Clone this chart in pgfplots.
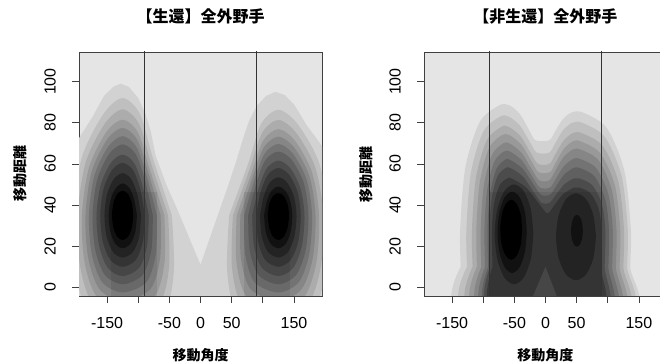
\documentclass[border=0pt]{standalone}
\usepackage{fontspec}
\setmainfont{Liberation Sans}
\newfontfamily\cjk{Noto Sans CJK JP}
\usepackage{pgfplots}
\pgfplotsset{compat=1.18}
\definecolor{g0}{gray}{0.90}
\definecolor{g1}{gray}{0.825}
\definecolor{g2}{gray}{0.75}
\definecolor{g3}{gray}{0.675}
\definecolor{g4}{gray}{0.60}
\definecolor{g5}{gray}{0.525}
\definecolor{g6}{gray}{0.45}
\definecolor{g7}{gray}{0.375}
\definecolor{g8}{gray}{0.30}
\definecolor{g9}{gray}{0.225}
\definecolor{g10}{gray}{0.15}
\definecolor{g11}{gray}{0.075}
\definecolor{g12}{gray}{0.0}
\pgfplotsset{
  dens/.style={
    scale only axis, height=244bp,
    ymin=-4.2, ymax=114.4,
    axis background/.style={fill=g0},
    axis line style={draw=black!75, line width=0.7bp},
    tick align=outside, major tick length=7bp,
    tick style={draw=black!75, line width=0.7bp},
    tick pos=left,
    xtick={-150,-100,-50,0,50,100,150},
    xticklabels={-150,,-50,0,50,,150},
    ytick={0,20,40,60,80,100},
    yticklabels={0,20,40,60,80,100},
    tick label style={font=\fontsize{16bp}{19bp}\selectfont, inner sep=0pt},
    xticklabel style={anchor=north, yshift=-14bp},
    yticklabel style={rotate=90, anchor=south, yshift=16bp},
    title style={font=\cjk\bfseries\fontsize{16bp}{19bp}\selectfont, anchor=center},
    label style={font=\cjk\bfseries\fontsize{14bp}{17bp}\selectfont, anchor=center},
  },
  lev/.style={fill=#1, draw=none, smooth},
  seam/.style={fill=black, fill opacity=0.08, draw=none},
  vline/.style={draw=black!80, line width=0.7bp},
}
\begin{document}
\begin{tikzpicture}
\useasboundingbox (0,0) rectangle (660bp,363bp);
% ---------------- left panel ----------------
\begin{axis}[dens, at={(79bp,67bp)}, anchor=south west, width=243bp,
  xmin=-195, xmax=195,
  title={【生還】全外野手}, title style={at={(0.5,1.123)}},
  xlabel={移動角度}, xlabel style={at={(0.5,-0.2418)}},
  ylabel={移動距離}, ylabel style={at={(-0.2428,0.5)}}]
\addplot[fill=g1, draw=none] coordinates {(-200,-12) (-200,70) (-192,74) (-173,83) (-155,93) (-140,97.5) (-128,99) (-115,97.5) (-100,92) (-88,84) (-80,76) (-72,64) (-55,50) (-36,37) (-18,24) (0,11) (15,24) (30,37) (45,50) (58,62) (68,72) (78,81) (90,88) (105,93) (120,95) (135,93.5) (150,89) (170,79) (192,70) (200,66) (200,-12)} --cycle;
% level 2
\addplot[lev=g2] coordinates {(-46,35) (-77.1,63.5) (-97.3,84.4) (-125,92) (-155.5,84.4) (-190.1,63.5) (-204.5,35) (-200.8,7.5) (-178.7,-12.6) (-125,-20) (-59.8,-12.6) (-42.9,7.5) (-46,35)} --cycle;
\addplot[lev=g2] coordinates {(46,35) (77.1,60.7) (97.3,79.5) (125,86.3) (155.5,79.5) (190.1,60.7) (204.5,35) (200.8,7.5) (178.7,-12.6) (125,-20) (59.8,-12.6) (42.9,7.5) (46,35)} --cycle;
% level 3
\addplot[lev=g3] coordinates {(-52,35) (-79.7,60.75) (-98.9,79.6) (-125,86.5) (-153.5,79.6) (-184.3,60.75) (-197.1,35) (-193,10) (-172.4,-8.3) (-125,-15) (-67.1,-8.3) (-50.4,10) (-52,35)} --cycle;
\addplot[lev=g3] coordinates {(52,35) (79.7,58.2) (98.9,75.1) (125,81.4) (153.5,75.1) (184.3,58.2) (197.1,35) (193,10) (172.4,-8.3) (125,-15) (67.1,-8.3) (50.4,10) (52,35)} --cycle;
% level 4
\addplot[lev=g4] coordinates {(-58,35) (-82.3,58.25) (-100.4,75.3) (-125,81.5) (-151.5,75.3) (-179,58.25) (-190.3,35) (-186.1,12.25) (-166.8,-4.4) (-125,-10.5) (-74.1,-4.4) (-57.7,12.25) (-58,35)} --cycle;
\addplot[lev=g4] coordinates {(58,35) (82.3,55.9) (100.4,71.3) (125,76.9) (151.5,71.3) (179,55.9) (190.3,35) (186.1,12.25) (166.8,-4.4) (125,-10.5) (74.1,-4.4) (57.7,12.25) (58,35)} --cycle;
% level 5
\addplot[lev=g5] coordinates {(-64,35) (-84.3,56.25) (-101.5,71.8) (-125,77.5) (-150,71.8) (-174.7,56.25) (-184.6,35) (-180.2,14.25) (-162.1,-0.9) (-125,-6.5) (-80.6,-0.9) (-64.8,14.25) (-64,35)} --cycle;
\addplot[lev=g5] coordinates {(64,35) (84.3,54.1) (101.5,68.1) (125,73.25) (150,68.1) (174.7,54.1) (184.6,35) (180.2,14.25) (162.1,-0.9) (125,-6.5) (80.6,-0.9) (64.8,14.25) (64,35)} --cycle;
% level 6
\addplot[lev=g6] coordinates {(-70,35) (-86.7,54.25) (-102.9,68.3) (-125,73.5) (-148.3,68.3) (-170.4,54.25) (-179,35) (-174.6,16.25) (-157.7,2.5) (-125,-2.5) (-86.8,2.5) (-71.7,16.25) (-70,35)} --cycle;
\addplot[lev=g6] coordinates {(70,35) (86.7,52.3) (102.9,65) (125,69.7) (148.3,65) (170.4,52.3) (179,35) (174.6,16.25) (157.7,2.5) (125,-2.5) (86.8,2.5) (71.7,16.25) (70,35)} --cycle;
% level 7
\addplot[lev=g7] coordinates {(-76.5,35) (-89.3,52.25) (-104.4,64.9) (-125,69.5) (-146.5,64.9) (-165.9,52.25) (-173.3,35) (-168.9,18.25) (-153.4,6) (-125,1.5) (-92.9,6) (-78.8,18.25) (-76.5,35)} --cycle;
\addplot[lev=g7] coordinates {(76.5,35) (89.3,50.5) (104.4,61.9) (125,66) (146.5,61.9) (165.9,50.5) (173.3,35) (168.9,18.25) (153.4,6) (125,1.5) (92.9,6) (78.8,18.25) (76.5,35)} --cycle;
% level 8
\addplot[lev=g8] coordinates {(-83,35) (-93.3,49.75) (-106.7,60.5) (-125,64.5) (-143.9,60.5) (-160.2,49.75) (-166.9,35) (-162.7,20.25) (-148.9,9.5) (-125,5.5) (-98.5,9.5) (-85.7,20.25) (-83,35)} --cycle;
\addplot[lev=g8] coordinates {(83,35) (93.3,48.3) (106.7,58) (125,61.6) (143.9,58) (160.2,48.3) (166.9,35) (162.7,20.25) (148.9,9.5) (125,5.5) (98.5,9.5) (85.7,20.25) (83,35)} --cycle;
% level 9
\addplot[lev=g9] coordinates {(-89.5,35) (-96.6,47.75) (-108.6,57.1) (-125,60.5) (-141.8,57.1) (-155.7,47.75) (-160.9,35) (-157,22.5) (-144.8,13.35) (-125,10) (-103.8,13.35) (-92.4,22.5) (-89.5,35)} --cycle;
\addplot[lev=g9] coordinates {(89.5,35) (96.6,46.5) (108.6,54.9) (125,58) (141.8,54.9) (155.7,46.5) (160.9,35) (157,22.5) (144.8,13.35) (125,10) (103.8,13.35) (92.4,22.5) (89.5,35)} --cycle;
% level 10
\addplot[lev=g10] coordinates {(-95.5,35) (-101.4,45.25) (-111.4,52.75) (-125,55.5) (-138.8,52.75) (-149.9,45.25) (-154.1,35) (-150.7,24.75) (-140.6,17.25) (-125,14.5) (-108.3,17.25) (-98.4,24.75) (-95.5,35)} --cycle;
\addplot[lev=g10] coordinates {(95.5,35) (101.4,44.2) (111.4,51) (125,53.5) (138.8,51) (149.9,44.2) (154.1,35) (150.7,24.75) (140.6,17.25) (125,14.5) (108.3,17.25) (98.4,24.75) (95.5,35)} --cycle;
% level 11
\addplot[lev=g11] coordinates {(-102,35) (-106.6,42.75) (-114.3,48.4) (-125,50.5) (-135.7,48.4) (-144,42.75) (-147.4,35) (-144.6,27) (-136.6,21.1) (-125,19) (-112.8,21.1) (-104.7,27) (-102,35)} --cycle;
\addplot[lev=g11] coordinates {(102,35) (106.6,42) (114.3,47.1) (125,49) (135.7,47.1) (144,42) (147.4,35) (144.6,27) (136.6,21.1) (125,19) (112.8,21.1) (104.7,27) (102,35)} --cycle;
% level 12
\addplot[lev=g12] coordinates {(-108,35) (-110.3,41) (-116.5,45.4) (-125,47) (-133.5,45.4) (-139.7,41) (-142,35) (-139.7,29) (-133.5,24.6) (-125,23) (-116.5,24.6) (-110.3,29) (-108,35)} --cycle;
\addplot[lev=g12] coordinates {(108,35) (110.3,40.4) (116.5,44.4) (125,45.8) (133.5,44.4) (139.7,40.4) (142,35) (139.7,29) (133.5,24.6) (125,23) (116.5,24.6) (110.3,29) (108,35)} --cycle;
% rendering seam
\addplot[seam] coordinates {(-143,-5) (-143,46.5) (-70,46.5) (-70,-5)} --cycle;
\addplot[seam] coordinates {(70,-5) (70,46.5) (144,46.5) (144,-5)} --cycle;
\addplot[vline] coordinates {(-90,-10) (-90,120)};
\addplot[vline] coordinates {(90,-10) (90,120)};
\end{axis}
% ---------------- right panel ----------------
\begin{axis}[dens, at={(424bp,67bp)}, anchor=south west, width=236bp,
  xmin=-195, xmax=183.8,
  title={【非生還】全外野手}, title style={at={(0.5148,1.123)}},
  xlabel={移動角度}, xlabel style={at={(0.5148,-0.2418)}},
  ylabel={移動距離}, ylabel style={at={(-0.2428,0.5)}}]
\addplot[lev=g1] coordinates {(-136,10) (-137,28) (-128.6,58.3) (-105.5,80.4) (-74,88.5) (-58,88.5) (-41.2,84.25) (-26.5,76.6) (-16,71.5) (6,71.5) (15,75.55) (27.6,81.6) (42,85) (60,85) (98.5,77.4) (126.7,56.5) (137,28) (136,10) (134,-12) (-134,-12) (-136,10)} --cycle;
\addplot[lev=g2] coordinates {(-126,10) (-127,28) (-119.8,55.5) (-100,75.6) (-73,83) (-59,83) (-41,78.6) (-25.25,70.75) (-14,65.5) (6,65.5) (15.25,69.85) (28.2,76.4) (43,80) (59,80) (95.5,73) (122.2,54) (132,28) (131,10) (129,-12) (-124,-12) (-126,10)} --cycle;
\addplot[lev=g3] coordinates {(-117,10) (-118,28) (-111.7,53) (-94.5,71.3) (-71,78) (-59,78) (-40.2,73.5) (-23.75,65.4) (-12,60) (6,60) (15.5,64.5) (28.8,71.25) (44,75) (58,75) (92,68.7) (116.9,51.5) (126,28) (125,10) (123,-12) (-115,-12) (-117,10)} --cycle;
\addplot[lev=g4] coordinates {(-110,10) (-111,28) (-105.5,51) (-90.5,67.8) (-70,74) (-58,74) (-39.2,69.5) (-22.75,61.4) (-11,56) (7,56) (16.25,60.5) (29.2,67.25) (44,71) (56,71) (88,65.2) (111.4,49.5) (120,28) (119,10) (117,-12) (-108,-12) (-110,10)} --cycle;
\addplot[lev=g5] coordinates {(-103,10) (-104,28) (-99.2,49) (-86,64.4) (-68,70) (-58,70) (-38.8,65.5) (-22,57.4) (-10,52) (6,52) (15.5,56.5) (28.8,63.25) (44,67) (56,67) (85,61.8) (106.2,47.5) (114,28) (113,10) (111,-12) (-101,-12) (-103,10)} --cycle;
\addplot[lev=g6] coordinates {(-97,10) (-98,28) (-93.8,47) (-82.5,60.9) (-67,66) (-57,66) (-37.8,61.6) (-21,53.75) (-9,48.5) (7,48.5) (16.5,52.7) (29.8,59) (45,62.5) (55,62.5) (81.5,57.9) (100.9,45.25) (108,28) (107,10) (105,-12) (-95,-12) (-97,10)} --cycle;
\addplot[lev=g7] coordinates {(-92,10) (-93,28) (-89.2,45) (-79,57.4) (-65,62) (-57,62) (-37,57.75) (-19.5,50.1) (-7,45) (7,45) (16.5,48.9) (29.8,54.75) (45,58) (55,58) (78.5,54) (95.7,43) (102,28) (101,10) (99,-12) (-90,-12) (-92,10)} --cycle;
\addplot[lev=g8] coordinates {(-89,10) (-90,28) (-86.5,43) (-77,54) (-64,58) (-56,58) (-36,53.75) (-18.5,46.1) (-6,41) (6,41) (16,44.6) (30,50) (46,53) (54,53) (75,49.65) (90.4,40.5) (96,28) (95,10) (93,-12) (-87,-12) (-89,10)} --cycle;
\addplot[lev=g9] coordinates {(-85,10) (-86,28) (-82.65,40.5) (-73.5,49.65) (-61,53) (-55,53) (-31.8,48.75) (-11.5,41.1) (3,36) (13.75,39.75) (28.8,45.4) (46,48.5) (54,48.5) (72,45.75) (85.2,38.25) (90,28) (89,10) (87,-12) (-83,-12) (-85,10)} --cycle;
\addplot[fill=g8, draw=none] coordinates {(-31,-12) (0,10) (28,-12)} --cycle;
\addplot[lev=g10] coordinates {(-19.5,26) (-23.65,38) (-35,46.8) (-50.5,50) (-66,46.8) (-77.35,38) (-81.5,26) (-77.35,13.75) (-66,4.8) (-50.5,1.5) (-35,4.8) (-23.65,13.75) (-19.5,26)} --cycle;
\addplot[lev=g10] coordinates {(81,24.6) (76.7,35.15) (65,42.9) (49,45.7) (33,42.9) (21.3,35.15) (17,24.6) (21.3,14.05) (33,6.3) (49,3.5) (65,6.3) (76.7,14.05) (81,24.6)} --cycle;
\addplot[lev=g11] coordinates {(-30,27) (-33.15,36.75) (-41.75,43.9) (-53.5,46.5) (-65.25,43.9) (-73.85,36.75) (-77,27) (-73.85,17) (-65.25,9.7) (-53.5,7) (-41.75,9.7) (-33.15,17) (-30,27)} --cycle;
\addplot[lev=g11] coordinates {(60,27.5) (58.7,31.35) (55.25,34.2) (50.5,35.2) (45.75,34.2) (42.3,31.35) (41,27.5) (42.3,23.65) (45.75,20.8) (50.5,19.8) (55.25,20.8) (58.7,23.65) (60,27.5)} --cycle;
\addplot[lev=g12] coordinates {(-37.5,28) (-39.8,35.3) (-46.25,40.6) (-55,42.6) (-63.75,40.6) (-70.2,35.3) (-72.5,28) (-70.2,20.7) (-63.75,15.4) (-55,13.4) (-46.25,15.4) (-39.8,20.7) (-37.5,28)} --cycle;
% rendering seam
\addplot[seam] coordinates {(-90,-5) (-90,46.5) (90,46.5) (90,-5)} --cycle;
\addplot[vline] coordinates {(-90,-10) (-90,120)};
\addplot[vline] coordinates {(90,-10) (90,120)};
\end{axis}
\end{tikzpicture}
\end{document}
